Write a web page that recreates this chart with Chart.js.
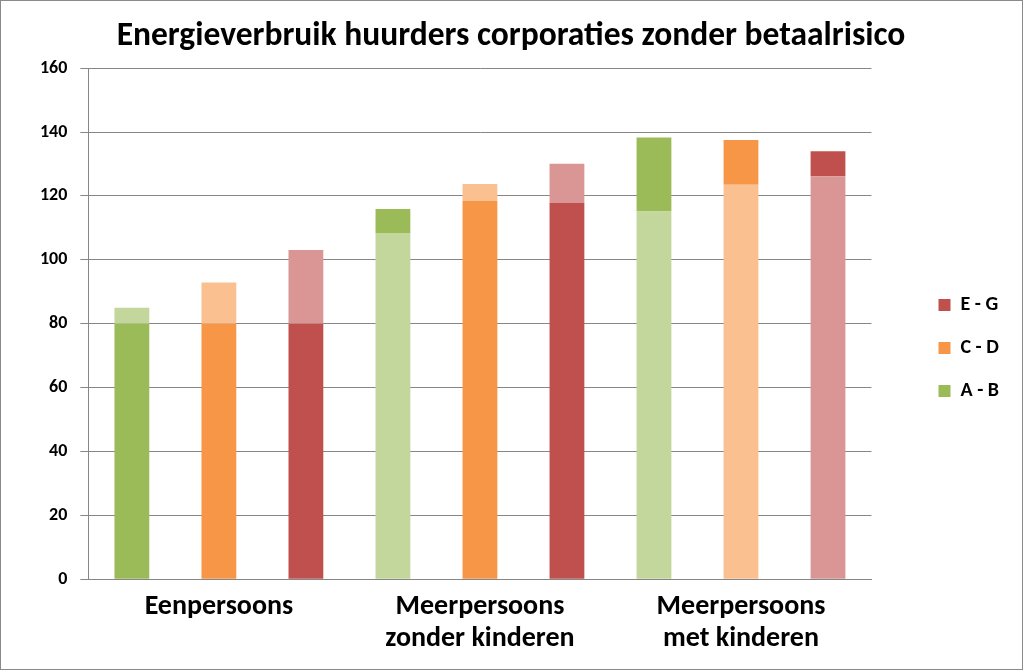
<!DOCTYPE html>
<html>
<head>
<meta charset="utf-8">
<script src="https://cdn.jsdelivr.net/npm/chart.js@4"></script>
<style>
  html, body { margin: 0; padding: 0; background: #fff; }
  #wrap { width: 1023px; height: 670px; box-sizing: border-box; border: 1px solid #8a8a8a; }
  #chart { display: block; }
</style>
</head>
<body>
<div id="wrap"><canvas id="chart" width="1021" height="668"></canvas></div>
<script>
// --- data ---
const categories = [['Eenpersoons'], ['Meerpersoons', 'zonder kinderen'], ['Meerpersoons', 'met kinderen']];
const yTicks = [0, 20, 40, 60, 80, 100, 120, 140, 160];

// lower part and upper part of each bar, per label
const abLower = [80, 108.4, 115.1];
const abUpper = [5, 7.5, 23.2];
const cdLower = [80, 118.5, 123.5];
const cdUpper = [12.9, 5.2, 14];
const egLower = [80, 117.8, 126.2];
const egUpper = [23.1, 12.3, 7.8];

const legendLabels = ['E - G', 'C - D', 'A - B'];

// colours
const green = '#9BBB59', greenLight = '#C3D69B';
const orange = '#F79646', orangeLight = '#FAC090';
const red = '#C0504D', redLight = '#D99694';
const legendColors = [red, orange, green];

const grid = '#868686';

// nudge legend / title blocks (the padding on the sides pulls them off-centre)
const legendShift = { x: 44, y: 18 };
const titleShift = 15;

document.addEventListener('DOMContentLoaded', () => {
    Chart.defaults.font.family = "Carlito, Lato, 'Open Sans', sans-serif";
    Chart.defaults.color = '#000';

    const ds = (label, data, stack, colors) => ({
        label: label,
        data: data,
        stack: stack,
        backgroundColor: colors,
        borderWidth: 0,
        categoryPercentage: 1,
        barPercentage: 0.4
    });

    const moveBoxes = {
        id: 'moveBoxes',
        afterLayout(chart) {
            const lg = chart.legend;
            if(lg) {
                lg.left += legendShift.x; lg.right += legendShift.x;
                lg.top += legendShift.y; lg.bottom += legendShift.y;
            }
            const tt = chart.titleBlock;
            if(tt) { tt.left += titleShift; tt.right += titleShift; }
        }
    };

    new Chart(document.getElementById('chart'), {
        type: 'bar',
        data: {
            labels: categories,
            datasets: [
                ds('A - B', abLower, 'ab', [green, greenLight, greenLight]),
                ds('A - B top', abUpper, 'ab', [greenLight, green, green]),
                ds('C - D', cdLower, 'cd', [orange, orange, orangeLight]),
                ds('C - D top', cdUpper, 'cd', [orangeLight, orangeLight, orange]),
                ds('E - G', egLower, 'eg', [red, red, redLight]),
                ds('E - G top', egUpper, 'eg', [redLight, redLight, red])
            ]
        },
        plugins: [moveBoxes],
        options: {
            responsive: false,
            animation: false,
            layout: { padding: { left: 26, right: 57, top: 0, bottom: 10 } },
            plugins: {
                title: {
                    display: true,
                    text: 'Energieverbruik huurders corporaties zonder betaalrisico',
                    font: { size: 33.5, weight: 'bold', lineHeight: 1.2 },
                    color: '#000',
                    padding: { top: 16, bottom: 11 }
                },
                tooltip: { enabled: false },
                legend: {
                    position: 'right',
                    labels: {
                        boxWidth: 12,
                        boxHeight: 12,
                        padding: 23,
                        font: { size: 20, weight: 'bold' },
                        generateLabels: () => legendLabels.map((t, i) => ({
                            text: t,
                            fillStyle: legendColors[i],
                            strokeStyle: legendColors[i],
                            lineWidth: 0,
                            hidden: false,
                            datasetIndex: i
                        }))
                    }
                }
            },
            scales: {
                x: {
                    stacked: true,
                    grid: { display: false },
                    border: { color: grid, width: 1 },
                    ticks: { font: { size: 28, weight: 'bold', lineHeight: 1.14 }, padding: 4 }
                },
                y: {
                    stacked: true,
                    min: yTicks[0],
                    max: yTicks[yTicks.length - 1],
                    afterBuildTicks: axis => { axis.ticks = yTicks.map(v => ({ value: v })); },
                    grid: { color: grid, lineWidth: 1, tickLength: 8, tickColor: grid },
                    border: { color: grid, width: 1 },
                    ticks: { font: { size: 18, weight: 'bold' }, padding: 13 }
                }
            }
        }
    });
});
</script>
</body>
</html>
